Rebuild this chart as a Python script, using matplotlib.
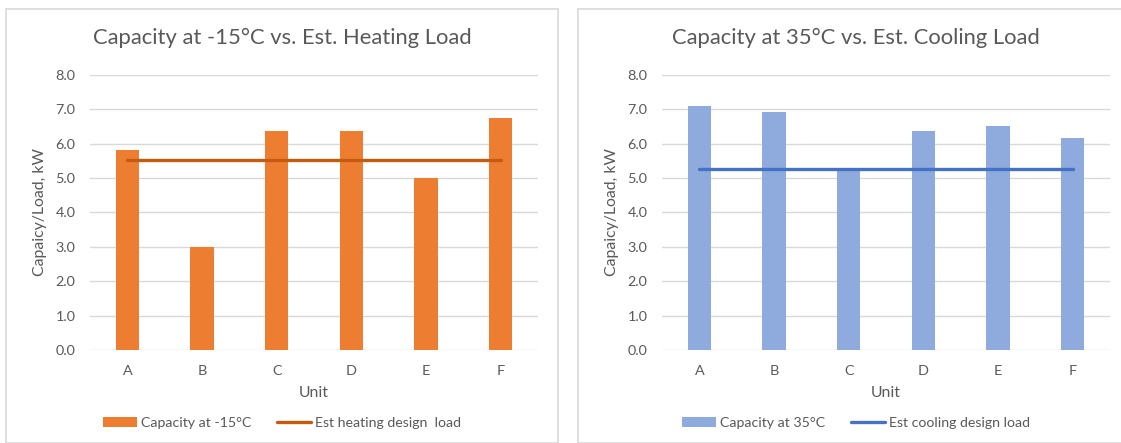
import matplotlib
matplotlib.use("Agg")
import matplotlib.pyplot as plt
from matplotlib.patches import Rectangle

plt.rcParams["font.family"] = ["Lato", "DejaVu Sans"]

# data
units = ["A", "B", "C", "D", "E", "F"]
heat_capacity = [5.8, 3.0, 6.35, 6.35, 5.0, 6.74]
heat_load = [5.52, 5.52, 5.52, 5.52, 5.52, 5.52]
cool_capacity = [7.08, 6.92, 5.25, 6.35, 6.52, 6.15]
cool_load = [5.27, 5.27, 5.27, 5.27, 5.27, 5.27]

TEXT = "#595959"
GRID = "#D9D9D9"
W, H = 1121, 443

fig = plt.figure(figsize=(W / 100, H / 100), dpi=100)

# chart-area frames
fig.patches.append(Rectangle((5.5 / W, 0), 552 / W, 1 - 9 / H, transform=fig.transFigure,
                             fill=False, edgecolor=GRID, lw=1.2))
fig.patches.append(Rectangle((578 / W, 0), 600 / W, 1 - 9 / H, transform=fig.transFigure,
                             fill=False, edgecolor=GRID, lw=1.2))

panels = [
    dict(left=90, cap=heat_capacity, load=heat_load, bar="#ED7D31", line="#C55A11",
         title="Capacity at -15°C vs. Est. Heating Load",
         labels=["Capacity at -15°C", "Est heating design  load"], mid_x=282),
    dict(left=662, cap=cool_capacity, load=cool_load, bar="#8FAADC", line="#4472C4",
         title="Capacity at 35°C vs. Est. Cooling Load",
         labels=["Capacity at 35°C", "Est cooling design load"], mid_x=856),
]

ax_bottom = (H - 350) / H
ax_height = 275.3 / H

for p in panels:
    ax = fig.add_axes([p["left"] / W, ax_bottom, 448 / W, ax_height])
    x = range(len(units))
    bars = ax.bar(x, p["cap"], width=0.31, color=p["bar"], zorder=2)
    ln, = ax.plot(x, p["load"], color=p["line"], lw=2.4, zorder=3, solid_capstyle="round")

    ax.set_xlim(-0.5, 5.5)
    ax.set_ylim(0, 8)
    ax.set_yticks([i for i in range(9)])
    ax.set_yticklabels([f"{i:.1f}" for i in range(9)])
    ax.set_xticks(list(x))
    ax.set_xticklabels(units)
    ax.tick_params(axis="both", length=0, colors=TEXT, labelsize=10.4)
    ax.tick_params(axis="y", pad=10.5)
    ax.tick_params(axis="x", pad=10.5)
    for s in ax.spines.values():
        s.set_visible(False)
    ax.grid(axis="y", color=GRID, lw=1.0, zorder=0)
    ax.set_axisbelow(True)

    ax.set_ylabel("Capaicy/Load, kW", color=TEXT, fontsize=11.4, va="center")
    ax.yaxis.set_label_coords(-0.112, 0.5)
    ax.set_xlabel("Unit", color=TEXT, fontsize=11.4, va="center")
    ax.xaxis.set_label_coords(0.5, -43 / 275.3)

    # title and legend are centred on the chart area, not the plot area
    fig.text(p["mid_x"] / W, 1 - 38 / H, p["title"], ha="center", va="center",
             fontsize=15.8, color=TEXT)
    fig.legend([bars, ln], p["labels"], loc="center",
               bbox_to_anchor=(p["mid_x"] / W, 1 - 423 / H), ncol=2, frameon=False,
               fontsize=10.2, labelcolor=TEXT, handlelength=2.4, handletextpad=0.28,
               columnspacing=1.8)

fig.savefig("out.png", dpi=100)
